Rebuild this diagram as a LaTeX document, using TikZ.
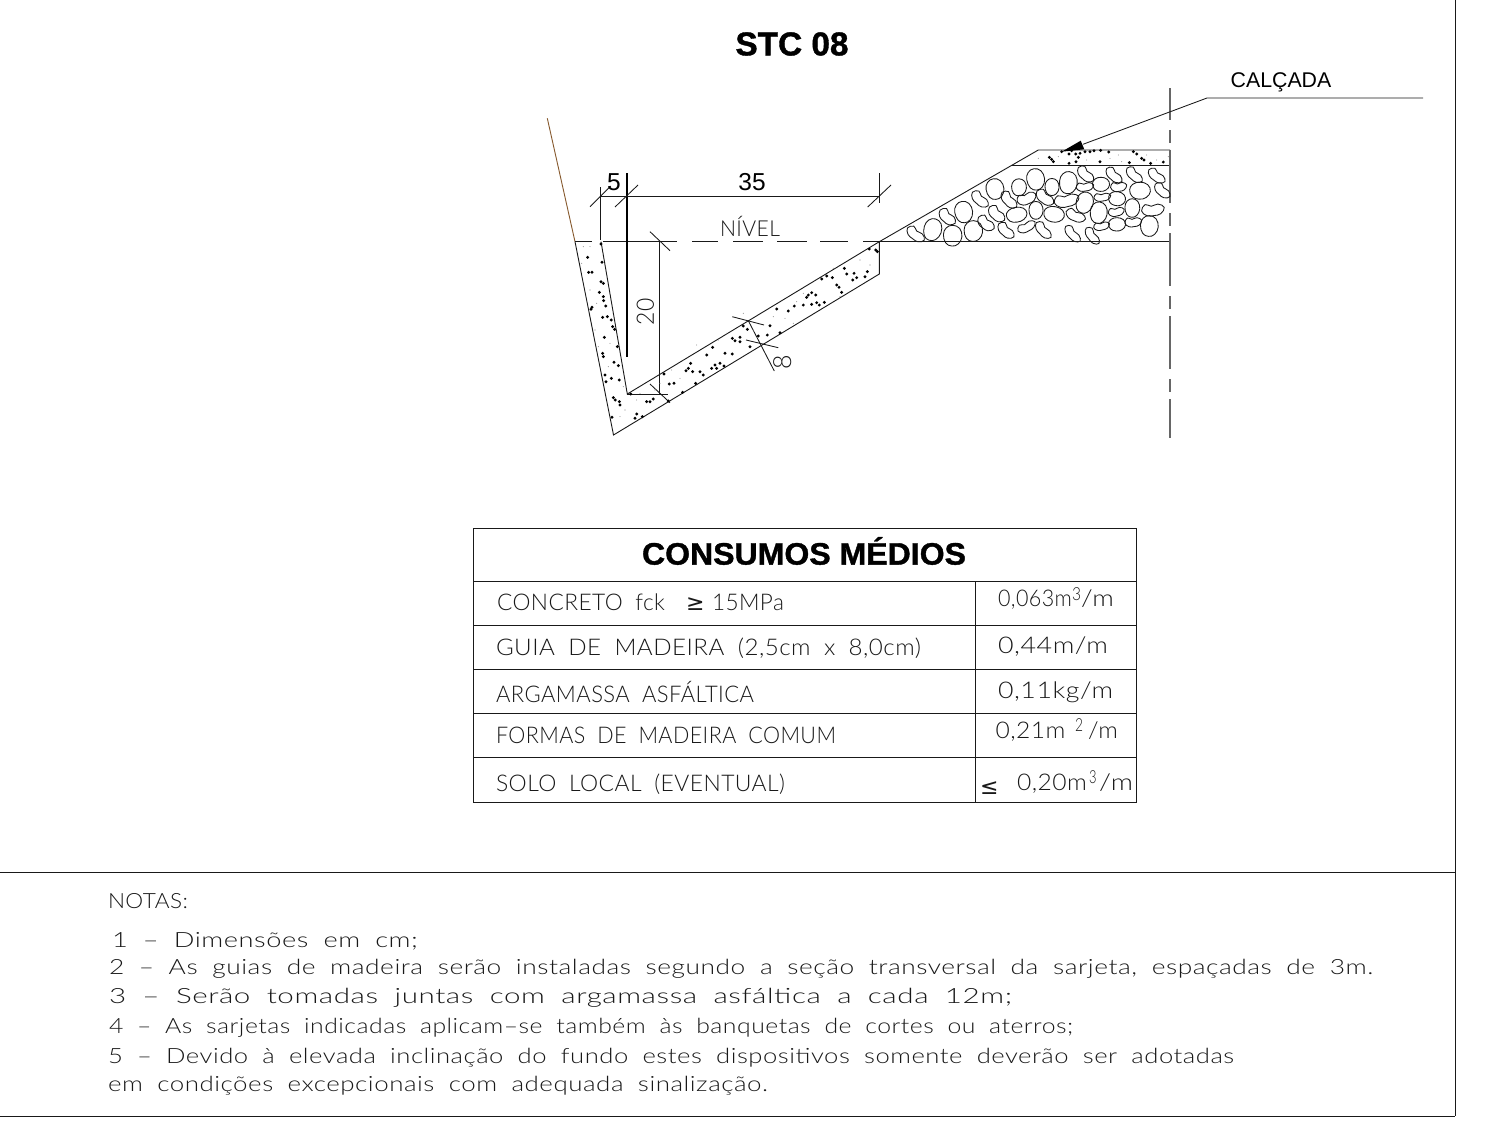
\documentclass[tikz,border=0pt]{standalone}
\usepackage{fontspec}
\usepackage{graphicx}
\setmainfont{Liberation Sans}
\newfontfamily\cadfont[LetterSpace=2,WordSpace=1.9]{Lato Light}
\newfontfamily\symfont{DejaVu Sans ExtraLight}
\newfontfamily\symfontb{DejaVu Sans}
\newfontfamily\heavyfont[FakeBold=1.2]{Liberation Sans Bold}
\tikzset{
  line/.style={line width=0.9pt,black!90},
  thin line/.style={line width=0.85pt,black!90},
  cadtext/.style={anchor=base west,inner sep=0pt,outer sep=0pt,text=black!90},
  pebble/.style={line width=0.85pt,black!90},
  grit/.style={fill=black},
  fines/.style={fill=black!45},
}
\newcommand{\ct}[6]{\node[cadtext] (#1) at (#2,#3) {\resizebox{#4pt}{\height}{\fontsize{#5}{#5}\cadfont #6}};}
\begin{document}
\begin{tikzpicture}[x=1pt,y=-1pt]
\useasboundingbox (0,0) rectangle (1485,1146);
\fill[white] (0,0) rectangle (1485,1146);
% frame
\draw[line] (1455,0) -- (1455,1116);
\draw[line] (0,872) -- (1455,872);
\draw[line] (0,1116) -- (1455,1116);
% title
\node[inner sep=0pt] (title) at (792,44) {\resizebox{113pt}{\height}{\fontsize{33}{33}\heavyfont STC 08}};
% terrain line
\draw[line width=0.9pt,color=brown!70!black] (547.3,118.3) -- (575,241.7);
% gutter
\draw[line] (575,241.7) -- (613.5,435) -- (879.3,274) -- (879.3,241.7) -- (627.3,394) -- (601,241.7);
% level line
\draw[line] (575,241.7) -- (592,241.7);
\draw[line] (603,241.7) -- (677,241.7);
\draw[line] (692,241.7) -- (718,241.7);
\draw[line] (733,241.7) -- (763,241.7);
\draw[line] (777,241.7) -- (807,241.7);
\draw[line] (820,241.7) -- (848,241.7);
\draw[line] (863,241.7) -- (880,241.7);
% dimension 5 / 35
\draw[thin line] (600,187) -- (600,240);
\draw[line width=1.05pt,black] (627,173) -- (627,357);
\draw[thin line] (879.3,173) -- (879.3,203);
\draw[thin line] (600,196) -- (879.3,196);
\draw[thin line] (590,206.7) -- (610.7,186);
\draw[thin line] (615,207) -- (638,185);
\draw[thin line] (867.7,207) -- (891,185);
\node[font=\fontsize{24.5}{24.5}\selectfont,inner sep=0pt] (dimfive) at (614,182) {5};
\node[font=\fontsize{24.5}{24.5}\selectfont,inner sep=0pt] (dimthirtyfive) at (752,182) {35};
\node[cadtext] (nivel) at (720,236) {\resizebox{60pt}{\height}{\fontsize{22}{22}\cadfont NÍVEL}};
% dimension 20
\draw[thin line] (659.3,241.7) -- (659.3,394);
\draw[thin line] (650,231.7) -- (670,250.7);
\draw[thin line] (650,384) -- (670,402.7);
\draw[thin line] (627.3,394) -- (668,394);
\node[rotate=90,inner sep=0pt,text=black!90] (dimtwenty) at (645.3,311.7) {\resizebox{27pt}{\height}{\fontsize{24}{24}\cadfont 20}};
% dimension 8
\draw[thin line] (748.3,320.7) -- (774.3,371);
\draw[thin line] (732.3,316.7) -- (764,325);
\draw[thin line] (746,340) -- (778.3,347.7);
\node[rotate=90,inner sep=0pt,text=black!90] (dimeight) at (782.3,362.7) {\fontsize{25}{25}\cadfont 8};
% gutter aggregate
\foreach \x/\y in {183/432,143/472,186/487,146/517,156/517,183/545,190/550,178/577,190/590,191/602,197/618,153/628,156/622,188/652,202/650,214/660,218/680,224/688,193/712,232/740,188/760,190/770,222/787,235/797,195/825,214/835,198/845,238/840,220/893,226/900,238/905,240/915,272/882,290/942,285/955,307/950,216/952,320/905,330/905,340/897,385/903,428/877,467/850,372/822,388/852,402/850,452/790,445/805,438/812,458/815,480/815,490/825,515/805,525/795,530/805,540/790,552/798,500/765,518/742,555/760,577/762,577/715,585/722,600/712,600/725,630/740,610/678,622/688,655/708,682/705,690/677,720/698,710/627,745/633,763/618,790/615,815/613,805/585,815/578,800/592,827/585,830/608,838/615,853/607,845/537,860/528,877/533,890/555,897/562,905/577,913/505,920/522,942/520,950/533,938/540,982/515,975/530,988/447,1007/450,1012/455}
  \fill[grit] ({540+\x/3},{100+\y/3}) circle[radius=1.6pt];
\foreach \x/\y in {130/440,125/490,150/570,170/610,165/690,175/740,210/730,205/800,250/860,255/930,300/880,345/870,395/810,420/835,430/780,470/735,535/720,610/640,640/690,700/650,735/655,760/670,770/605,790/580,880/505,900/590,960/480,990/495,150/440,290/900,240/950,360/850,560/700}
  \fill[fines] ({540+\x/3},{100+\y/3}) circle[radius=0.55pt];
% road structure
\draw[line] (879.3,241.7) -- (1038.3,150) -- (1170,150);
\draw[line] (1011.7,165) -- (1170,165);
\draw[line] (879.3,241.7) -- (1170,241.7);
\draw[line width=1.2pt,black!60,dash pattern=on 53pt off 10pt on 13pt off 7pt,dash phase=21pt] (1170,88) -- (1170,438);
% pebbles
\foreach \x/\y/\a/\b/\r in {137/463/28/16/-35,188/449/24/30/-15,248/467/25/28/0,232/411/27/17/-40,281/396/24/29/10,310/453/25/28/0,348/430/26/17/-35,330/358/28/16/-40,375/327/24/28/10,380/402/27/17/-40,408/452/27/16/-40,417/360/28/16/-45,447/322/20/23/0,470/355/27/17/25,497/298/24/29/10,546/321/19/23/0,525/353/28/17/-35,498/391/19/24/0,440/404/28/20/10,470/440/26/14/30,520/451/28/15/-45,552/403/28/21/-10,595/308/24/30/-5,590/361/34/19/15,608/462/28/14/-45,617/407/28/16/-20,644/368/23/29/-15,667/468/27/14/-50,647/283/27/16/-40,645/320/24/13/10,693/313/23/19/0,697/351/23/12/10,686/398/23/29/-5,695/438/22/12/15,732/286/27/15/-40,746/320/22/14/10,741/356/23/19/-10,739/395/22/13/15,741/433/23/18/0,793/285/27/15/-40,810/332/28/23/0,787/384/20/25/0,790/426/23/14/10,838/438/24/28/0,849/389/31/18/10,860/288/27/15/-35,877/332/26/15/-40}{
  \ifdim\a pt>\dimexpr\b pt*3/2\relax
    \draw[pebble,shift={({870+\x/3},{80+\y/3})},rotate=\r,xscale=\a*0.37,yscale=\b*0.37]
      plot[smooth cycle,tension=0.7] coordinates {(-1,-.1)(-.6,-.95)(-.1,-.55)(.5,-.7)(1,-.05)(.6,.8)(0,.9)(-.6,.75)};
  \else
    \draw[pebble,shift={({870+\x/3},{80+\y/3})},rotate=\r,xscale=\a*0.37,yscale=\b*0.37]
      plot[smooth cycle,tension=0.7] coordinates {(-1,-.1)(-.7,-.75)(0,-1)(.75,-.7)(1,.1)(.6,.8)(-.1,1)(-.75,.7)};
  \fi
}
% pavement aggregate
\foreach \x/\y in {575/215,538/232,545/238,550/245,597/222,605/212,617/222,630/220,625/232,597/250,618/245,645/215,660/215,672/212,692/211,716/216,690/245,778/248,790/215,800/222,815/235,822/240,842/250,880/246}
  \fill[grit] ({870+\x/3},{80+\y/3}) circle[radius=1.6pt];
\foreach \x/\y in {505/235,565/230,650/240,720/235,745/225,755/245,830/225,860/240,895/230}
  \fill[fines] ({870+\x/3},{80+\y/3}) circle[radius=0.55pt];
% leader
\coordinate (leaderknee) at (1207,98);
\coordinate (leaderend) at (1423,98);
\coordinate (leadertip) at (1083,144.3);
\draw[thin line] (leaderend) -- (leaderknee) -- (leadertip);
\fill[black] (1061.7,151.7) -- (1080.7,140.7) -- (1084.3,149.3) -- cycle;
\node[font=\fontsize{21.3}{21.3}\selectfont,inner sep=0pt] (calcada) at (1281,82) {CALÇADA};
% table
\draw[line] (473,528) rectangle (1136,802);
\foreach \y in {581,625,669,713,757}
  \draw[line] (473,\y) -- (1136,\y);
\draw[line] (975,581) -- (975,802);
\node[inner sep=0pt] (tabletitle) at (804,551) {\resizebox{324pt}{\height}{\fontsize{31}{31}\heavyfont CONSUMOS MÉDIOS}};
\ct{rowa}{497}{610.7}{168}{23}{CONCRETO fck}
\node[cadtext] (rowage) at (686,610) {\fontsize{22}{22}\symfontb ≥};
\ct{rowb}{712}{610.7}{72}{23}{15MPa}
\ct{rowc}{496}{655}{425}{23}{GUIA DE MADEIRA (2,5cm x 8,0cm)}
\ct{rowd}{496}{702.7}{258}{23}{ARGAMASSA ASFÁLTICA}
\ct{rowe}{496}{743.3}{340}{23}{FORMAS DE MADEIRA COMUM}
\ct{rowf}{496}{791.7}{289}{23}{SOLO LOCAL (EVENTUAL)}
\ct{vala}{998}{606.5}{74}{23}{0,063m}
\ct{valasup}{1072}{600}{9}{18}{3}
\ct{valb}{1081}{606.5}{33}{23}{/m}
\ct{valc}{998}{653}{110}{23}{0,44m/m}
\ct{vald}{998}{698}{115}{23}{0,11kg/m}
\ct{vale}{995.5}{738}{70}{23}{0,21m}
\ct{valesup}{1075}{731}{8}{18}{2}
\ct{valf}{1088}{738}{30}{23}{/m}
\node[cadtext] (valgle) at (980,794) {\fontsize{22}{22}\symfontb ≤};
\ct{valg}{1017}{790}{70}{23}{0,20m}
\ct{valgsup}{1089}{783}{7.5}{18}{3}
\ct{valh}{1099}{790}{34}{23}{/m}
% notes
\ct{notas}{108}{908}{80}{21}{NOTAS:}
\ct{notea}{112}{947}{306}{21}{1 – Dimensões em cm;}
\ct{noteb}{109}{974}{1264}{21}{2 – As guias de madeira serão instaladas segundo a seção transversal da sarjeta, espaçadas de 3m.}
\ct{notec}{109}{1003}{903}{21}{3 – Serão tomadas juntas com argamassa asfáltica a cada 12m;}
\ct{noted}{109}{1033}{964}{21}{4 – As sarjetas indicadas aplicam–se também às banquetas de cortes ou aterros;}
\ct{notee}{108}{1063}{1126}{21}{5 – Devido à elevada inclinação do fundo estes dispositivos somente deverão ser adotadas}
\ct{notef}{108}{1091}{660}{21}{em condições excepcionais com adequada sinalização.}
\end{tikzpicture}
\end{document}
